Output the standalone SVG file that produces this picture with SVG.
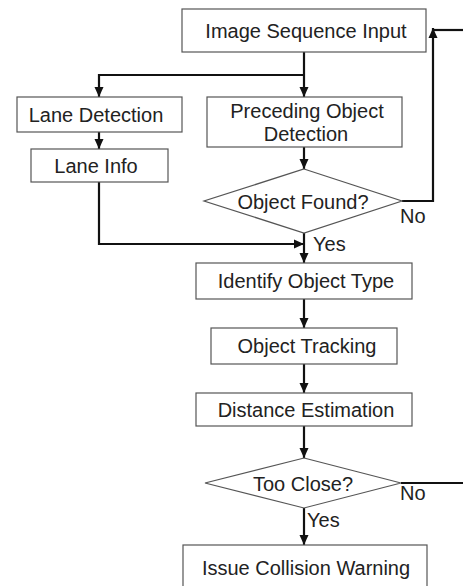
<svg xmlns="http://www.w3.org/2000/svg" width="463" height="586" viewBox="0 0 463 586">
<style>
.box{fill:#fff;stroke:#555;stroke-width:1.2}
.t{font-family:"Liberation Sans",Arial,sans-serif;font-size:20px;fill:#222;text-anchor:middle}
.l{font-family:"Liberation Sans",Arial,sans-serif;font-size:20px;fill:#222}
.c{fill:none;stroke:#111;stroke-width:2.2}
</style>
<defs>
<marker id="ah" viewBox="0 0 10 10" refX="10" refY="5" markerWidth="10" markerHeight="10" markerUnits="userSpaceOnUse" orient="auto">
<path d="M0,0.5 L10,5 L0,9.5 Z" fill="#111"/>
</marker>
</defs>
<rect width="463" height="586" fill="#fff"/>
<g id="connectors">
<path class="c" d="M304,52 V97" marker-end="url(#ah)"/>
<path class="c" d="M304,75 H99 V97" marker-end="url(#ah)"/>
<path class="c" d="M99,132 V149" marker-end="url(#ah)"/>
<path class="c" d="M304,147 V169" marker-end="url(#ah)"/>
<path class="c" d="M99,182 V244 H304" marker-end="url(#ah)"/>
<path class="c" d="M304,233 V263" marker-end="url(#ah)"/>
<path class="c" d="M402,201 H433 V28" marker-end="url(#ah)"/>
<path class="c" d="M463,30 H433"/>
<path class="c" d="M304,299 V328" marker-end="url(#ah)"/>
<path class="c" d="M304,364 V393" marker-end="url(#ah)"/>
<path class="c" d="M304,426 V458" marker-end="url(#ah)"/>
<path class="c" d="M304,508 V545" marker-end="url(#ah)"/>
<path class="c" d="M401,483 H463"/>
<text class="l" x="400" y="223">No</text>
<text class="l" x="313" y="251">Yes</text>
<text class="l" x="400" y="500">No</text>
<text class="l" x="307" y="527">Yes</text>
</g>
<g id="image-sequence-input">
<rect class="box" x="182" y="9" width="244" height="43"/>
<text class="t" x="306" y="38">Image Sequence Input</text>
</g>
<g id="lane-detection">
<rect class="box" x="17" y="97" width="165" height="35"/>
<text class="t" x="96" y="122">Lane Detection</text>
</g>
<g id="preceding-object-detection">
<rect class="box" x="207" y="97" width="195" height="50"/>
<text class="t" x="307" y="118">Preceding Object</text>
<text class="t" x="306" y="141">Detection</text>
</g>
<g id="lane-info">
<rect class="box" x="31" y="149" width="137" height="33"/>
<text class="t" x="96" y="173">Lane Info</text>
</g>
<g id="object-found">
<polygon class="box" points="304,169 402,201 304,233 204,201"/>
<text class="t" x="303" y="209">Object Found?</text>
</g>
<g id="identify-object-type">
<rect class="box" x="196" y="263" width="216" height="36"/>
<text class="t" x="306" y="288">Identify Object Type</text>
</g>
<g id="object-tracking">
<rect class="box" x="211" y="328" width="186" height="36"/>
<text class="t" x="307" y="353">Object Tracking</text>
</g>
<g id="distance-estimation">
<rect class="box" x="196" y="393" width="216" height="33"/>
<text class="t" x="306" y="417">Distance Estimation</text>
</g>
<g id="too-close">
<polygon class="box" points="304,458 401,483 304,508 205,483"/>
<text class="t" x="303" y="491">Too Close?</text>
</g>
<g id="issue-collision-warning">
<rect class="box" x="183" y="545" width="244" height="44"/>
<text class="t" x="306" y="575">Issue Collision Warning</text>
</g>
</svg>
